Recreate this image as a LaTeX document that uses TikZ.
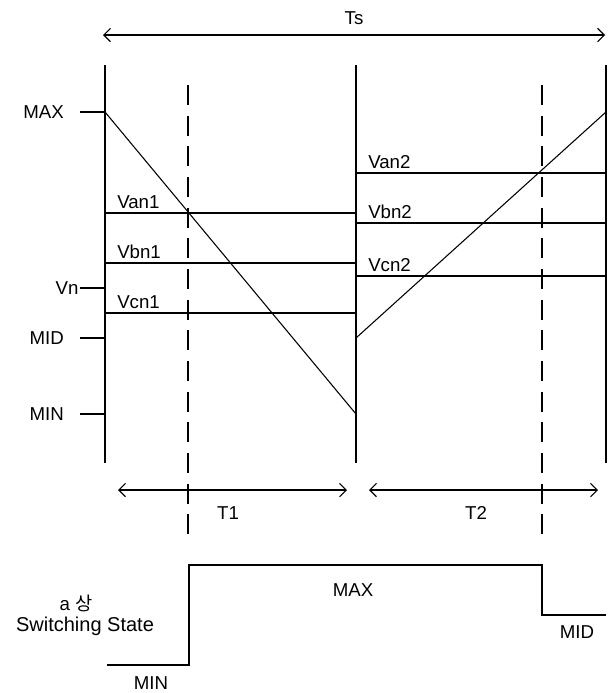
\documentclass[tikz,border=0pt]{standalone}
\usepackage{fontspec}
\setmainfont{Liberation Sans}
\newfontfamily\krfont{Noto Sans CJK KR}
\usetikzlibrary{arrows.meta}

\begin{document}
\begin{tikzpicture}[x=0.75pt,y=-0.75pt,
    lbl/.style={font=\fontsize{14}{16}\selectfont, inner sep=1pt},
    wire/.style={line width=0.8pt},
    marker/.style={line width=1.6pt, dash pattern=on 15pt off 8pt},
    span/.style={wire, {Straight Barb[length=5pt,width=10pt]}-{Straight Barb[length=5pt,width=10pt]}}]
  \useasboundingbox (0,0) rectangle (608,693);
  % period
  \coordinate (tsL) at (103,35);
  \coordinate (tsR) at (605,35);
  \draw[span] (tsL) -- (tsR) node[lbl, midway, above=6pt] (ts) {Ts};
  % section borders
  \foreach \x/\n in {105/A,356/B,606/C} {
    \coordinate (top\n) at (\x,65);
    \coordinate (bot\n) at (\x,463);
    \draw[wire] (top\n) -- (bot\n);
  }
  % switching instants
  \foreach \x/\n in {188/1,542/2} {
    \coordinate (mtop\n) at (\x,85);
    \coordinate (mbot\n) at (\x,540);
    \draw[marker] (mtop\n) -- (mbot\n);
  }
  % levels on the left
  \foreach \y/\t/\g in {112/MAX/12pt,338/MID/12pt,414/MIN/12pt,288/Vn/1pt} {
    \coordinate (tick\t) at (80,\y);
    \coordinate (axis\t) at (105,\y);
    \draw[wire] (tick\t) -- (axis\t);
    \node[lbl, anchor=east, inner sep=\g] (lv\t) at (tick\t) {\t};
  }
  % phase voltages, first half
  \foreach \y/\t in {213/Van1,263/Vbn1,313/Vcn1} {
    \coordinate (\t L) at (105,\y);
    \coordinate (\t R) at (356,\y);
    \draw[wire] (\t L) -- (\t R);
    \node[lbl, anchor=south west, inner sep=3pt] (n\t) at ([xshift=6pt]\t L) {\t};
  }
  % phase voltages, second half
  \foreach \y/\t in {173/Van2,223/Vbn2,276/Vcn2} {
    \coordinate (\t L) at (356,\y);
    \coordinate (\t R) at (606,\y);
    \draw[wire] (\t L) -- (\t R);
    \node[lbl, anchor=south west, inner sep=3pt] (n\t) at ([xshift=6pt]\t L) {\t};
  }
  % carriers
  \coordinate (fallA) at (105,112);
  \coordinate (fallB) at (356,414);
  \coordinate (riseA) at (356,338);
  \coordinate (riseB) at (606,112);
  \draw[wire] (fallA) -- (fallB);
  \draw[wire] (riseA) -- (riseB);
  % half periods
  \coordinate (t1L) at (118,490);
  \coordinate (t1R) at (347,490);
  \coordinate (t2L) at (369,490);
  \coordinate (t2R) at (598,490);
  \draw[span] (t1L) -- (t1R);
  \draw[span] (t2L) -- (t2R);
  \node[lbl] (t1) at (228,513) {T1};
  \node[lbl] (t2) at (476,513) {T2};
  % switching state of phase a
  \coordinate (swA) at (107,665);
  \coordinate (swB) at (189,565);
  \coordinate (swC) at (542,565);
  \coordinate (swD) at (606,615);
  \draw[wire] (swA) -| (swB) -- (swC) |- (swD);
  \node[lbl] (sMin) at (151,683) {MIN};
  \node[lbl] (sMax) at (353,590) {MAX};
  \node[lbl] (sMid) at (577,632) {MID};
  \node[lbl] (phase) at (76,603) {a {\krfont 상}};
  \node[lbl, font=\fontsize{15}{17}\selectfont] (state) at (85,626) {Switching State};
\end{tikzpicture}
\end{document}
